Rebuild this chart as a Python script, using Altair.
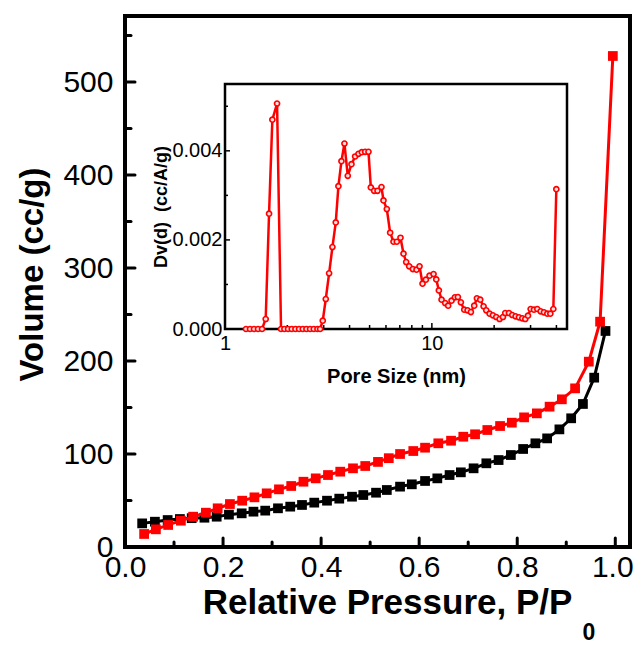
import altair as alt
import pandas as pd

# ---------------- main isotherm data ----------------
black_p = [0.035, 0.061, 0.087, 0.112, 0.136, 0.162, 0.187, 0.212, 0.238, 0.262,
           0.286, 0.312, 0.337, 0.361, 0.386, 0.412, 0.437, 0.463, 0.486, 0.512,
           0.534, 0.561, 0.585, 0.612, 0.637, 0.662, 0.685, 0.711, 0.737, 0.762,
           0.787, 0.812, 0.837, 0.861, 0.886, 0.910, 0.934, 0.957, 0.980]
black_v = [25.4, 27.2, 29.0, 30.1, 31.0, 31.5, 32.6, 34.8, 36.2, 38.0,
           39.1, 41.6, 43.4, 45.2, 47.7, 49.8, 52.0, 54.1, 55.9, 58.4,
           61.3, 64.9, 67.4, 71.0, 73.8, 77.4, 80.3, 84.6, 90.0, 93.5,
           98.9, 105.4, 111.5, 116.8, 126.5, 138.4, 153.8, 182.1, 232.3]

red_p = [0.039, 0.063, 0.088, 0.114, 0.139, 0.165, 0.189, 0.214, 0.239, 0.264,
         0.289, 0.314, 0.339, 0.364, 0.389, 0.414, 0.439, 0.465, 0.490, 0.516,
         0.538, 0.561, 0.588, 0.612, 0.639, 0.665, 0.690, 0.714, 0.739, 0.765,
         0.789, 0.814, 0.840, 0.866, 0.891, 0.918, 0.946, 0.969, 0.995]
red_v = [14.0, 19.0, 23.7, 28.3, 32.6, 36.9, 41.6, 46.2, 49.8, 53.4,
         57.7, 62.0, 65.6, 70.2, 73.8, 77.4, 81.0, 84.6, 87.1, 91.5,
         95.5, 100.0, 103.2, 106.8, 111.5, 114.3, 118.6, 121.2, 125.8, 130.1,
         133.7, 139.4, 143.7, 150.9, 158.8, 170.6, 199.3, 242.3, 528.0]

# ---------------- inset pore size distribution ----------------
pore_d = [1.263, 1.321, 1.381, 1.444, 1.510, 1.573, 1.633, 1.694, 1.785, 1.866,
          1.937, 2.018, 2.102, 2.190, 2.281, 2.376, 2.475, 2.578, 2.686, 2.798,
          2.882, 2.969, 3.070, 3.186, 3.306, 3.431, 3.534, 3.655, 3.779, 3.922,
          4.087, 4.256, 4.418, 4.585, 4.759, 4.939, 5.069, 5.260, 5.460, 5.707,
          5.835, 6.057, 6.285, 6.524, 6.770, 7.053, 7.293, 7.513, 7.768, 8.093,
          8.431, 8.717, 9.013, 9.354, 9.743, 10.19, 10.50, 10.81, 11.14, 11.60,
          11.99, 12.45, 12.92, 13.36, 13.81, 14.34, 14.88, 15.44, 16.02, 16.51,
          17.13, 17.78, 18.32, 19.01, 19.73, 20.48, 21.25, 22.06, 22.63, 23.59,
          24.47, 25.40, 26.36, 27.36, 28.29, 29.14, 30.02, 31.15, 32.33, 33.56,
          34.83, 36.15, 37.38, 38.65, 39.96]
dv = [0, 0, 0, 0, 0, 0.000224, 0.00259, 0.00470, 0.00506, 0,
      0, 0, 0, 0, 0, 0, 0, 0, 0, 0,
      0, 0.000187, 0.000673, 0.001249, 0.001839, 0.002393, 0.003207, 0.003768, 0.004164, 0.003439,
      0.003701, 0.003873, 0.003933, 0.003970, 0.003978, 0.003978, 0.003178, 0.003103, 0.003103, 0.003185,
      0.002886, 0.002692, 0.002161, 0.001959, 0.001959, 0.002049, 0.001690, 0.001503, 0.001406, 0.001346,
      0.001331, 0.001406, 0.001017, 0.001107, 0.001196, 0.001234, 0.001114, 0.000867, 0.000658, 0.000583,
      0.000523, 0.000636, 0.000710, 0.000718, 0.000598, 0.000434, 0.000419, 0.000381, 0.000523, 0.000688,
      0.000658, 0.000508, 0.000419, 0.000344, 0.000307, 0.000269, 0.000224, 0.000269, 0.000359, 0.000359,
      0.000314, 0.000284, 0.000262, 0.000239, 0.000224, 0.000299, 0.000449, 0.000434, 0.000449, 0.000396,
      0.000374, 0.000344, 0.000344, 0.000449, 0.003140]

# tick values
main_x_labels = [0.0, 0.2, 0.4, 0.6, 0.8, 1.0]
main_x_major = [0.2, 0.4, 0.6, 0.8, 1.0]
main_x_minor = [0.1, 0.3, 0.5, 0.7, 0.9]
main_y_major = [0, 100, 200, 300, 400, 500]
main_y_minor = [50, 150, 250, 350, 450, 550]
inset_x_labels = [1, 10]
inset_x_major = [10]
inset_x_minor = [2, 3, 4, 5, 6, 7, 8, 9, 20, 30, 40]
inset_y_labels = [0.0, 0.002, 0.004]
inset_y_minor = [0.001, 0.003, 0.005]

FONT = "Liberation Sans"
W, H = 505, 531
IX0, IX1, IY0, IY1 = 100, 442, 68, 313   # inset box inside plot area

main_x = alt.Scale(domain=[0, 1.03], nice=False, zero=False)
main_y = alt.Scale(domain=[0, 571], nice=False)
ins_x = alt.Scale(type="log", domain=[1, 45], range=[IX0, IX1], nice=False)
ins_y = alt.Scale(domain=[0, 0.0055], range=[IY1, IY0], nice=False)

df_black = pd.DataFrame({"p": black_p, "v": black_v})
df_red = pd.DataFrame({"p": red_p, "v": red_v})
df_ins = pd.DataFrame({"d": pore_d, "dv": dv})

x_axis = alt.Axis(orient="bottom", values=main_x_labels, format=".1f", ticks=False, tickSize=0,
                  domain=False, grid=False, labelFont=FONT, labelFontSize=30,
                  labelColor="black", labelPadding=5, labelFlush=False, labelOverlap=False,
                  labelOffset=alt.ConditionalAxisNumber(
                      condition={"test": "datum.value >= 1", "value": -3}, value=0),
                  title="Relative Pressure, P/P", titleFont=FONT, titleFontSize=35,
                  titleFontWeight="bold", titleColor="black", titleY=66, titleX=262,
                  titleBaseline="alphabetic")
y_axis = alt.Axis(orient="left", values=main_y_major, ticks=False, tickSize=0, domain=False,
                  grid=False, labelFont=FONT, labelFontSize=30, labelColor="black",
                  labelPadding=12, labelFlush=False, labelOverlap=False,
                  title="Volume (cc/g)", titleFont=FONT, titleFontSize=33,
                  titleFontWeight="bold", titleColor="black", titleX=-93, titleY=258,
                  titleBaseline="middle")

black_line = alt.Chart(df_black).mark_line(color="black", strokeWidth=3).encode(
    x=alt.X("p:Q", scale=main_x, axis=x_axis),
    y=alt.Y("v:Q", scale=main_y, axis=y_axis),
)
black_pts = alt.Chart(df_black).mark_point(shape="square", filled=True, size=95,
                                           color="black", opacity=1).encode(
    x=alt.X("p:Q", scale=main_x, axis=None),
    y=alt.Y("v:Q", scale=main_y, axis=None),
)
red_line = alt.Chart(df_red).mark_line(color="#ff0000", strokeWidth=3).encode(
    x=alt.X("p:Q", scale=main_x, axis=None),
    y=alt.Y("v:Q", scale=main_y, axis=None),
)
red_pts = alt.Chart(df_red).mark_point(shape="square", filled=True, size=95,
                                       color="#ff0000", opacity=1).encode(
    x=alt.X("p:Q", scale=main_x, axis=None),
    y=alt.Y("v:Q", scale=main_y, axis=None),
)

def vticks(vals, length, width):
    return alt.Chart(pd.DataFrame({"p": vals})).mark_rule(
        color="black", strokeWidth=width, strokeCap="round").encode(
        x=alt.X("p:Q", scale=main_x, axis=None),
        y=alt.value(H), y2=alt.value(H - length))

def hticks(vals, length, width):
    return alt.Chart(pd.DataFrame({"v": vals})).mark_rule(
        color="black", strokeWidth=width, strokeCap="round").encode(
        y=alt.Y("v:Q", scale=main_y, axis=None),
        x=alt.value(0), x2=alt.value(length))

sub0 = alt.Chart(pd.DataFrame({"t": ["0"]})).mark_text(
    font=FONT, fontSize=23, fontWeight="bold", color="black", align="center",
    baseline="middle").encode(text="t:N", x=alt.value(464), y=alt.value(617))

# ---------------- inset ----------------
frame = alt.Chart(pd.DataFrame({"k": [0]})).mark_rect(
    fill="white", stroke="black", strokeWidth=2.5).encode(
    x=alt.value(IX0), x2=alt.value(IX1), y=alt.value(IY0), y2=alt.value(IY1))

ix_axis = alt.Axis(orient="bottom", values=inset_x_labels, format="d", offset=-(H - IY1),
                   ticks=False, tickSize=0, domain=False, grid=False,
                   labelFont=FONT, labelFontSize=20, labelColor="black", labelPadding=4,
                   labelFlush=False, labelOverlap=False,
                   title="Pore Size (nm)", titleFont=FONT, titleFontSize=20,
                   titleFontWeight="bold", titleColor="black", titleY=53,
                   titleBaseline="alphabetic")
iy_axis = alt.Axis(orient="left", values=inset_y_labels, format=".3f", offset=-IX0,
                   ticks=False, tickSize=0, domain=False, grid=False,
                   labelFont=FONT, labelFontSize=20, labelColor="black", labelPadding=3,
                   labelFlush=False, labelOverlap=False,
                   title="Dv(d)\u00a0\u00a0(cc/A/g)", titleFont=FONT, titleFontSize=18,
                   titleFontWeight="bold", titleColor="black", titleX=-64,
                   titleBaseline="middle")

ins_line = alt.Chart(df_ins).mark_line(color="#ff0000", strokeWidth=2.5).encode(
    x=alt.X("d:Q", scale=ins_x, axis=ix_axis),
    y=alt.Y("dv:Q", scale=ins_y, axis=iy_axis),
)
ins_pts = alt.Chart(df_ins).mark_point(shape="circle", filled=True, size=26,
                                       fill="#ffe0e0", stroke="#ff0000",
                                       strokeWidth=1.6, opacity=1).encode(
    x=alt.X("d:Q", scale=ins_x, axis=None),
    y=alt.Y("dv:Q", scale=ins_y, axis=None),
)

def ivticks(vals, length, width):
    return alt.Chart(pd.DataFrame({"d": vals})).mark_rule(
        color="black", strokeWidth=width).encode(
        x=alt.X("d:Q", scale=ins_x, axis=None),
        y=alt.value(IY1), y2=alt.value(IY1 - length))

def ihticks(vals, length, width):
    return alt.Chart(pd.DataFrame({"dv": vals})).mark_rule(
        color="black", strokeWidth=width).encode(
        y=alt.Y("dv:Q", scale=ins_y, axis=None),
        x=alt.value(IX0), x2=alt.value(IX0 + length))

chart = alt.layer(
    black_line, black_pts, red_line, red_pts,
    vticks(main_x_major, 9, 3), vticks(main_x_minor, 5, 3),
    hticks(main_y_major, 10, 3), hticks(main_y_minor, 6, 3), sub0,
    frame, ivticks(inset_x_major, 6, 1.5), ivticks(inset_x_minor, 4, 1.5),
    ihticks(inset_y_labels, 5, 1.5), ihticks(inset_y_minor, 3, 1.5),
    ins_line, ins_pts,
).resolve_scale(
    x="independent", y="independent"
).properties(
    width=W, height=H,
    autosize=alt.AutoSizeParams(type="none"),
    padding={"left": 117, "top": 8, "right": 4, "bottom": 98},
).configure_view(stroke="black", strokeWidth=4)

chart.save("out.html", embed_options={"renderer": "svg", "actions": False})
